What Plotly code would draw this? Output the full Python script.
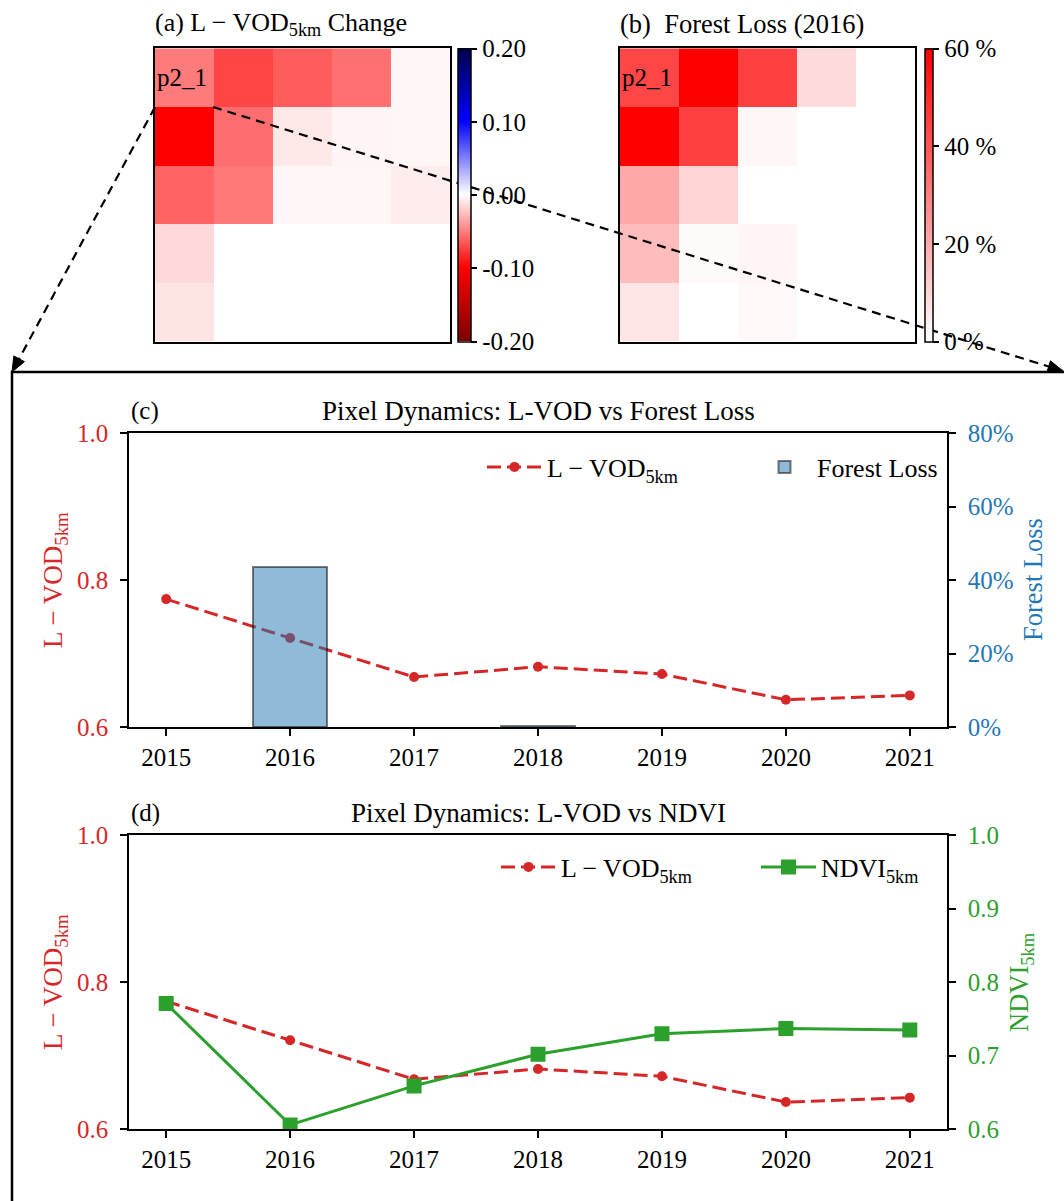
import math
import plotly.graph_objects as go

# ---------------- data ----------------
years = [2015, 2016, 2017, 2018, 2019, 2020, 2021]
lvod = [0.774, 0.721, 0.668, 0.682, 0.672, 0.637, 0.643]
ndvi = [0.771, 0.606, 0.659, 0.702, 0.730, 0.737, 0.735]
forest_loss = [None, 43.6, None, 0.3, None, None, None]

lvod_change_map = [
    [-0.052, -0.073, -0.064, -0.056, -0.0035],
    [-0.102, -0.057, -0.009, -0.004, -0.0035],
    [-0.061, -0.053, -0.0035, -0.0035, -0.007],
    [-0.015, None, None, None, None],
    [-0.0105, None, None, None, None],
]
forest_loss_map = [
    [43.6, 62, 45, 8.7, 0],
    [62, 45, 2.1, 0, 0],
    [20.5, 10.1, 0, 0, 0],
    [15.8, 1.2, 2.4, 0, 0],
    [6.1, 0, 1.6, 0, 0],
]
cb_a_ticks = [-0.2, -0.1, 0.0, 0.1, 0.2]
cb_a_text = ["-0.20", "-0.10", "0.00", "0.10", "0.20"]
cb_b_ticks = [0, 20, 40, 60]
cb_b_text = ["0 %", "20 %", "40 %", "60 %"]
lvod_ticks = [0.6, 0.8, 1.0]
lvod_ticktext = ["0.6", "0.8", "1.0"]
fl_ticks = [0, 20, 40, 60, 80]
fl_ticktext = ["0%", "20%", "40%", "60%", "80%"]
ndvi_ticks = [0.6, 0.7, 0.8, 0.9, 1.0]
ndvi_ticktext = ["0.6", "0.7", "0.8", "0.9", "1.0"]

# ---------------- helpers ----------------
W, H = 1064, 1201
FONT = "Liberation Serif"
RED, BLUE, GREEN = "#d62728", "#1f77b4", "#2ca02c"


def px(x):
    return x / W


def py(y):
    return 1 - y / H


seismic_r = [
    [0.0, "rgb(127,0,0)"],
    [0.25, "rgb(255,0,0)"],
    [0.5, "rgb(255,255,255)"],
    [0.75, "rgb(0,0,255)"],
    [1.0, "rgb(0,0,76)"],
]
white_red = [[0.0, "rgb(255,255,255)"], [1.0, "rgb(255,0,0)"]]

fig = go.Figure()

# heatmap (a)
fig.add_trace(go.Heatmap(
    z=lvod_change_map, xaxis="x", yaxis="y", colorscale=seismic_r,
    zmin=-0.2, zmax=0.2, hoverongaps=False,
    colorbar=dict(x=px(458), xanchor="left", xpad=0, y=py(195), yanchor="middle",
                  ypad=0, len=293.4 / H, lenmode="fraction", thickness=13,
                  outlinewidth=1.5, outlinecolor="black",
                  tickvals=cb_a_ticks, ticktext=cb_a_text, ticks="outside",
                  ticklen=6, tickwidth=1.5, tickcolor="black",
                  tickfont=dict(size=25, family=FONT, color="black")),
))
# heatmap (b)
fig.add_trace(go.Heatmap(
    z=forest_loss_map, xaxis="x2", yaxis="y2", colorscale=white_red,
    zmin=0, zmax=60,
    colorbar=dict(x=px(925), xanchor="left", xpad=0, y=py(195), yanchor="middle",
                  ypad=0, len=293.4 / H, lenmode="fraction", thickness=8,
                  outlinewidth=1.5, outlinecolor="black",
                  tickvals=cb_b_ticks, ticktext=cb_b_text, ticks="outside",
                  ticklen=6, tickwidth=1.5, tickcolor="black",
                  tickfont=dict(size=25, family=FONT, color="black")),
))

lvod_name = "L \u2212 VOD<sub>5km</sub>"
# panel (c)
fig.add_trace(go.Scatter(
    x=years, y=lvod, xaxis="x3", yaxis="y3", mode="lines+markers",
    line=dict(color=RED, width=3, dash="14px,6px"),
    marker=dict(size=10, color=RED), name=lvod_name, legend="legend"))
fig.add_trace(go.Bar(
    x=years, y=forest_loss, xaxis="x3", yaxis="y4", width=0.6,
    marker=dict(color="rgba(31,119,180,0.5)",
                line=dict(color="rgba(0,0,0,0.5)", width=2)),
    name="Forest Loss", legend="legend"))
# panel (d)
fig.add_trace(go.Scatter(
    x=years, y=lvod, xaxis="x4", yaxis="y5", mode="lines+markers",
    line=dict(color=RED, width=3, dash="14px,6px"),
    marker=dict(size=10, color=RED), name=lvod_name, legend="legend2"))
fig.add_trace(go.Scatter(
    x=years, y=ndvi, xaxis="x4", yaxis="y6", mode="lines+markers",
    line=dict(color=GREEN, width=3),
    marker=dict(size=15, color=GREEN, symbol="square"),
    name="NDVI<sub>5km</sub>", legend="legend2"))

heat_x = dict(range=[-0.5, 4.5], showticklabels=False, ticks="", showgrid=False,
              zeroline=False, showline=True, mirror=True, linecolor="black", linewidth=2)
heat_y = dict(range=[4.5, -0.5], showticklabels=False, ticks="", showgrid=False,
              zeroline=False, showline=True, mirror=True, linecolor="black", linewidth=2)

tickfont = dict(size=25, family=FONT, color="black")
xcommon = dict(range=[2014.7, 2021.3], tickvals=years, ticks="outside", ticklen=7,
               tickwidth=1.5, tickcolor="black", showgrid=False, zeroline=False,
               showline=True, mirror=True, linecolor="black", linewidth=1.5,
               tickfont=tickfont, domain=[px(129), px(947)], ticklabelstandoff=0)
ycommon = dict(ticks="outside", ticklen=7, tickwidth=1.5, tickcolor="black",
               showgrid=False, zeroline=False, showline=True, linecolor="black",
               linewidth=1.5, ticklabelstandoff=7)

legfont = dict(size=26, family=FONT, color="black")
fig.update_layout(
    width=W, height=H, autosize=False,
    margin=dict(l=0, r=0, t=0, b=0, pad=0, autoexpand=False),
    paper_bgcolor="white", plot_bgcolor="white",
    font=dict(family=FONT, size=25, color="black"),
    showlegend=True,
    bargap=0,
    xaxis=dict(domain=[px(155), px(450)], anchor="y", **heat_x),
    yaxis=dict(domain=[py(341.7), py(48.3)], anchor="x", **heat_y),
    xaxis2=dict(domain=[px(620), px(915)], anchor="y2", **heat_x),
    yaxis2=dict(domain=[py(341.7), py(48.3)], anchor="x2", **heat_y),
    xaxis3=dict(anchor="y3", **xcommon),
    yaxis3=dict(domain=[py(727), py(433)], anchor="x3", range=[0.6, 1.0],
                tickvals=lvod_ticks, ticktext=lvod_ticktext,
                tickfont=dict(size=25, family=FONT, color=RED), **ycommon),
    yaxis4=dict(overlaying="y3", side="right", anchor="x3", range=[0, 80],
                tickvals=fl_ticks, ticktext=fl_ticktext,
                tickfont=dict(size=25, family=FONT, color=BLUE), **ycommon),
    xaxis4=dict(anchor="y5", **xcommon),
    yaxis5=dict(domain=[py(1129.3), py(835)], anchor="x4", range=[0.6, 1.0],
                tickvals=lvod_ticks, ticktext=lvod_ticktext,
                tickfont=dict(size=25, family=FONT, color=RED), **ycommon),
    yaxis6=dict(overlaying="y5", side="right", anchor="x4", range=[0.6, 1.0],
                tickvals=ndvi_ticks, ticktext=ndvi_ticktext,
                tickfont=dict(size=25, family=FONT, color=GREEN), **ycommon),
    legend=dict(x=px(482), xanchor="left", y=py(467), yanchor="middle",
                orientation="h", itemwidth=55, entrywidth=200, entrywidthmode="pixels",
                font=legfont, bgcolor="rgba(0,0,0,0)", borderwidth=0),
    legend2=dict(x=px(496), xanchor="left", y=py(867), yanchor="middle",
                 orientation="h", itemwidth=55, entrywidth=190, entrywidthmode="pixels",
                 font=legfont, bgcolor="rgba(0,0,0,0)", borderwidth=0),
)

# ---------------- decorations ----------------
shapes = []
shapes.append(dict(type="rect", xref="paper", yref="paper", x0=px(12), x1=px(1075),
                   y0=py(1215), y1=py(372), line=dict(color="black", width=2.5),
                   fillcolor="rgba(0,0,0,0)", layer="above"))


def dashed_arrow(sx, sy, ex, ey):
    out = [dict(type="line", xref="paper", yref="paper", x0=px(sx), y0=py(sy),
                x1=px(ex), y1=py(ey), line=dict(color="black", width=2.2, dash="9px,6px"),
                layer="above")]
    dx, dy = ex - sx, ey - sy
    L = math.hypot(dx, dy)
    ux, uy = dx / L, dy / L
    bx, by = ex - 15 * ux, ey - 15 * uy
    nx, ny = -uy, ux
    p1 = (bx + 6 * nx, by + 6 * ny)
    p2 = (bx - 6 * nx, by - 6 * ny)
    path = "M {} {} L {} {} L {} {} Z".format(px(ex), py(ey), px(p1[0]), py(p1[1]),
                                              px(p2[0]), py(p2[1]))
    out.append(dict(type="path", xref="paper", yref="paper", path=path,
                    fillcolor="black", line=dict(color="black", width=1), layer="above"))
    return out


shapes += dashed_arrow(155, 107, 12, 372)
shapes += dashed_arrow(213, 107, 1063, 371)
fig.update_layout(shapes=shapes)

ann = []


def txt(x, y, text, size=25, color="black", xanchor="left", angle=0, xref="paper", yref="paper"):
    ann.append(dict(x=x, y=y, xref=xref, yref=yref, text=text, showarrow=False,
                    xanchor=xanchor, yanchor="middle", textangle=angle,
                    font=dict(size=size, family=FONT, color=color)))


txt(px(153), py(24), "(a) L \u2212 VOD<sub>5km</sub> Change", size=26)
txt(px(618), py(24), "(b) \u00a0Forest Loss (2016)", size=26.5)
txt(-0.5, 0.0, "p2_1", size=25, xref="x", yref="y")
txt(-0.5, 0.0, "p2_1", size=25, xref="x2", yref="y2")
txt(px(129), py(411), "(c)", size=25)
txt(px(538), py(411), "Pixel Dynamics: L-VOD vs Forest Loss", size=27, xanchor="center")
txt(px(129), py(813), "(d)", size=25)
txt(px(538), py(813), "Pixel Dynamics: L-VOD vs NDVI", size=27, xanchor="center")
txt(px(55), py(580), lvod_name, size=27, color=RED, xanchor="center", angle=-90)
txt(px(55), py(982), lvod_name, size=27, color=RED, xanchor="center", angle=-90)
txt(px(1033), py(580), "Forest Loss", size=26.5, color=BLUE, xanchor="center", angle=-90)
txt(px(1021), py(982), "NDVI<sub>5km</sub>", size=26.5, color=GREEN, xanchor="center", angle=-90)
fig.update_layout(annotations=ann)

post = ("document.body.style.margin='0px';document.body.style.padding='0px';"
        "document.documentElement.style.overflow='hidden';")
fig.write_html("out.html", post_script=post, config={"displayModeBar": False})
